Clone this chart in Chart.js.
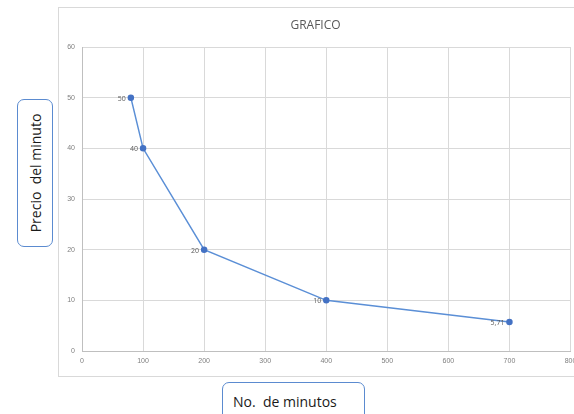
<!DOCTYPE html>
<html lang="es">
  <head>
    <meta charset="UTF-8" />
    <title>grafico</title>
    <script src="https://cdn.jsdelivr.net/npm/chart.js"></script>
    <style>
      body { margin: 0; background: #fff; width: 574px; height: 414px; position: relative; overflow: hidden; font-family: 'Open Sans', 'DejaVu Sans', sans-serif; }
      #frame { position: absolute; left: 58px; top: 7px; width: 517px; height: 370px; border-top: 1px solid #d9d9d9; border-left: 1px solid #d9d9d9; border-bottom: 1px solid #d9d9d9; box-sizing: border-box; }
      #frame canvas { position: absolute; left: 0; top: 0; }
      .box { position: absolute; border: 1.5px solid #5b8bd0; border-radius: 7px; background: #fff; color: #1a1a1a; font-size: 14px; white-space: pre; box-sizing: border-box; }
      #ylab { left: 17px; top: 99px; width: 36px; height: 148px; }
      #ylab span { position: absolute; left: 50%; top: 50%; transform: translate(-50%, -50%) rotate(-90deg); }
      #xlab { left: 222px; top: 382px; width: 143px; height: 40px; padding: 9px 0 0 10px; }
    </style>
  </head>
  <body>
    <div id="frame"><canvas id="grafico" width="517" height="370"></canvas></div>
    <div class="box" id="ylab"><span>Precio  del minuto</span></div>
    <div class="box" id="xlab">No.  de minutos</div>

    <script>
      // datos
      const minutos = [80, 100, 200, 400, 700];
      const precio = [50, 40, 20, 10, 5.71];
      const etiquetas = ['50', '40', '20', '10', '5,71'];

      const puntos = minutos.map((m, i) => ({ x: m, y: precio[i] }));

      // etiquetas de datos a la izquierda del punto
      const dataLabels = {
        id: 'dataLabels',
        afterDatasetsDraw(chart) {
          const ctx = chart.ctx;
          const meta = chart.getDatasetMeta(0);
          ctx.save();
          ctx.font = '7px "Open Sans", sans-serif';
          ctx.fillStyle = '#595959';
          ctx.textAlign = 'right';
          ctx.textBaseline = 'middle';
          meta.data.forEach((p, i) => {
            ctx.fillText(etiquetas[i], p.x - 5, p.y + 1);
          });
          ctx.restore();
        }
      };

      const config = {
        type: 'scatter',
        data: {
          datasets: [
            {
              data: puntos,
              showLine: true,
              borderColor: '#5b8fd6',
              borderWidth: 1.5,
              backgroundColor: '#4472c4',
              pointBackgroundColor: '#4472c4',
              pointBorderColor: '#4472c4',
              pointRadius: 2.5,
              tension: 0,
            },
          ],
        },
        options: {
          responsive: false,
          animation: false,
          layout: { padding: { left: 0, right: 4, top: 0, bottom: 0 } },
          plugins: {
            legend: { display: false },
            tooltip: { enabled: false },
            title: {
              display: true,
              text: 'GRAFICO',
              color: '#595959',
              font: { family: '"Open Sans", sans-serif', size: 12, weight: 'normal' },
              padding: { top: 10, bottom: 14.6 },
            },
          },
          scales: {
            x: {
              type: 'linear',
              min: 0,
              max: 800,
              ticks: { stepSize: 100, color: '#7f7f7f', font: { size: 7 }, padding: 6 },
              grid: { color: '#d9d9d9', lineWidth: 1, drawTicks: false },
              border: { color: '#bfbfbf' },
              afterFit(s) { s.height = 27; s.paddingRight = 0; s.paddingLeft = 0; },
            },
            y: {
              min: 0,
              max: 60,
              ticks: { stepSize: 10, color: '#7f7f7f', font: { size: 7 }, padding: 7 },
              grid: { color: '#d9d9d9', lineWidth: 1, drawTicks: false },
              border: { color: '#bfbfbf' },
              afterFit(s) { s.width = 23; s.paddingTop = 0; s.paddingBottom = 0; },
            },
          },
        },
        plugins: [dataLabels],
      };

      new Chart(document.getElementById('grafico'), config);
    </script>
  </body>
</html>
